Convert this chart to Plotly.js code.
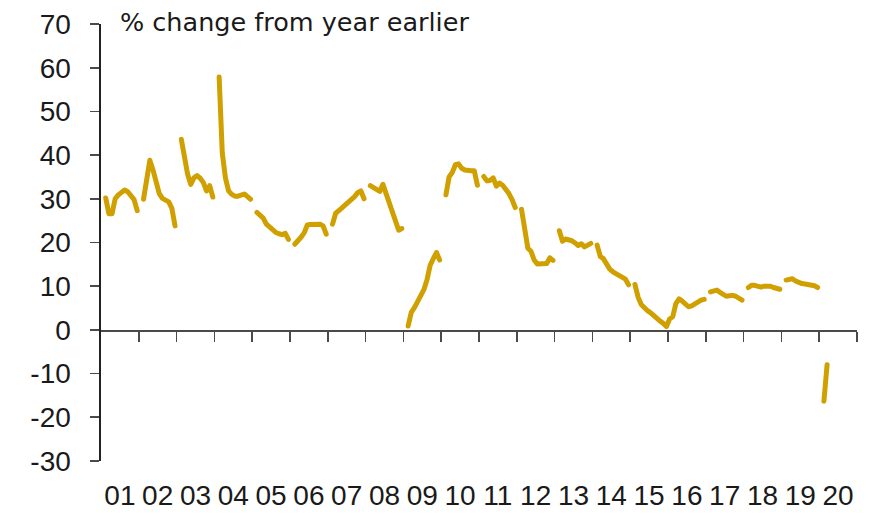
<!DOCTYPE html>
<html>
<head>
<meta charset="utf-8">
<script src="https://cdn.plot.ly/plotly-3.0.1.min.js"></script>
<style>
  html, body { margin: 0; padding: 0; background: #ffffff; }
  #chart { width: 895px; height: 515px; }
  #chart .scatterlayer .js-line { stroke-linecap: round; stroke-linejoin: round; }
</style>
</head>
<body>
<div id="chart"></div>
<script>
// Monthly % change from year earlier, Jan..Dec (Jan mostly not published -> null)
const y2001 = [null, 30.2, 26.6, 26.6, 30.0, 30.9, 31.5, 32.0, 31.6, 30.8, 29.8, 27.3];
const y2002 = [null, 29.9, 34.2, 38.8, 36.6, 33.8, 31.2, 30.1, 29.7, 29.3, 27.8, 23.8];
const y2003 = [null, 43.6, 39.5, 35.6, 33.3, 34.8, 35.3, 34.7, 33.7, 31.8, 33.0, 30.4];
const y2004 = [null, 57.9, 40.5, 34.8, 31.8, 31.0, 30.6, 30.6, 30.8, 31.1, 30.5, 29.9];
const y2005 = [null, 26.9, 26.4, 25.6, 24.2, 23.5, 23.0, 22.3, 22.0, 21.8, 22.1, 20.7];
const y2006 = [null, 19.6, 20.3, 21.2, 22.2, 24.0, 24.1, 24.2, 24.3, 24.2, 23.8, 21.9];
const y2007 = [null, 24.2, 26.7, 27.3, 27.9, 28.6, 29.0, 29.6, 30.5, 31.4, 31.8, 30.0];
const y2008 = [null, 33.0, 32.5, 32.0, 31.7, 33.3, 31.2, 28.8, 26.6, 24.8, 22.8, 23.2];
const y2009 = [null, 0.9, 4.0, 5.1, 6.4, 8.2, 9.2, 11.5, 14.8, 16.3, 17.7, 16.0];
const y2010 = [null, 30.9, 35.0, 36.0, 37.8, 38.0, 37.0, 36.6, 36.4, 36.4, 36.4, 33.1];
const y2011 = [null, 35.1, 34.1, 34.2, 34.8, 32.9, 33.6, 33.1, 32.3, 31.2, 29.8, 28.0];
const y2012 = [null, 27.6, 22.6, 18.7, 18.0, 16.0, 15.1, 15.2, 15.3, 15.2, 16.5, 15.9];
const y2013 = [null, 22.7, 20.3, 20.8, 20.6, 20.4, 19.9, 19.3, 19.7, 19.0, 19.4, 19.8];
const y2014 = [null, 19.4, 16.8, 16.3, 14.8, 13.9, 13.3, 12.9, 12.4, 12.1, 11.6, 10.3];
const y2015 = [null, 10.4, 7.5, 5.8, 5.0, 4.4, 3.9, 3.2, 2.6, 2.0, 1.5, 0.8];
const y2016 = [2.5, 3.0, 6.0, 7.1, 6.6, 5.8, 5.3, 5.5, 6.0, 6.5, 6.8, 7.0];
const y2017 = [null, 8.7, 8.9, 9.1, 8.6, 8.1, 7.7, 7.8, 7.9, 7.7, 7.4, 6.8];
const y2018 = [null, 9.7, 10.2, 10.2, 10.1, 9.8, 10.0, 10.1, 10.0, 9.7, 9.5, 9.3];
const y2019 = [null, 11.4, 11.6, 11.7, 11.2, 10.8, 10.6, 10.5, 10.4, 10.3, 10.1, 9.7];
const y2020 = [null, -16.3, -8.0];

const years = [2001, 2002, 2003, 2004, 2005, 2006, 2007, 2008, 2009, 2010,
               2011, 2012, 2013, 2014, 2015, 2016, 2017, 2018, 2019, 2020];
const yearLabels = ['01', '02', '03', '04', '05', '06', '07', '08', '09', '10',
                    '11', '12', '13', '14', '15', '16', '17', '18', '19', '20'];
const yTickVals = [-30, -20, -10, 0, 10, 20, 30, 40, 50, 60, 70];
const yTickText = ['-30', '-20', '-10', '0', '10', '20', '30', '40', '50', '60', '70'];
const seriesByYear = [y2001, y2002, y2003, y2004, y2005, y2006, y2007, y2008, y2009, y2010,
                      y2011, y2012, y2013, y2014, y2015, y2016, y2017, y2018, y2019, y2020];

// Monthly x positions (mid-month, decimal years)
const xs = [], ys = [];
years.forEach((yr, i) => {
  seriesByYear[i].forEach((v, m) => {
    xs.push(yr + (m + 0.5) / 12);
    ys.push(v);
  });
});

const lineColor = '#D09F00';
const axisColor = '#4a4a4a';
const numFont = { family: 'Liberation Sans, Arial, sans-serif', size: 28, color: '#1a1a1a' };

const traces = [
  {
    x: xs, y: ys, type: 'scatter', mode: 'lines',
    line: { color: lineColor, width: 5 },
    connectgaps: false, hoverinfo: 'skip', showlegend: false
  },
  {
    x: [years[0], years[years.length - 1] + 1], y: [null, null],
    type: 'scatter', mode: 'lines', xaxis: 'x2', yaxis: 'y',
    hoverinfo: 'skip', showlegend: false
  }
];

const boundaryTicks = years.slice(1).concat([years[years.length - 1] + 1]);
const midTicks = years.map(y => y + 0.5);

const layout = {
  width: 895, height: 515,
  margin: { l: 101, r: 38, t: 24, b: 54 },
  paper_bgcolor: '#ffffff', plot_bgcolor: '#ffffff',
  showlegend: false,
  xaxis: {
    range: [years[0], years[years.length - 1] + 1],
    showgrid: false, zeroline: false, showline: false,
    ticks: '', tickmode: 'array', tickvals: midTicks, ticktext: yearLabels,
    tickfont: numFont, ticklabelstandoff: 15,
    fixedrange: true
  },
  xaxis2: {
    overlaying: 'x', anchor: 'free', position: 0.3, side: 'bottom',
    range: [years[0], years[years.length - 1] + 1],
    showgrid: false, zeroline: false,
    showline: true, linecolor: axisColor, linewidth: 1.6,
    ticks: 'outside', ticklen: 10, tickwidth: 1.6, tickcolor: axisColor,
    tickmode: 'array', tickvals: boundaryTicks,
    showticklabels: false, fixedrange: true
  },
  yaxis: {
    range: [-30, 70], tickmode: 'array',
    tickvals: yTickVals, ticktext: yTickText,
    showgrid: false, zeroline: false,
    showline: true, linecolor: '#222222', linewidth: 1.6,
    ticks: 'outside', ticklen: 9, tickwidth: 1.6, tickcolor: axisColor,
    tickfont: numFont, ticklabelstandoff: 14,
    fixedrange: true
  },
  annotations: [{
    text: '% change from year earlier',
    xref: 'paper', yref: 'paper', x: 0.0225, y: 1,
    xanchor: 'left', yanchor: 'middle', yshift: 2,
    showarrow: false,
    font: { family: 'DejaVu Sans, sans-serif', size: 25.5, color: '#1a1a1a' }
  }]
};

Plotly.newPlot('chart', traces, layout, { staticPlot: true, displayModeBar: false });
</script>
</body>
</html>
